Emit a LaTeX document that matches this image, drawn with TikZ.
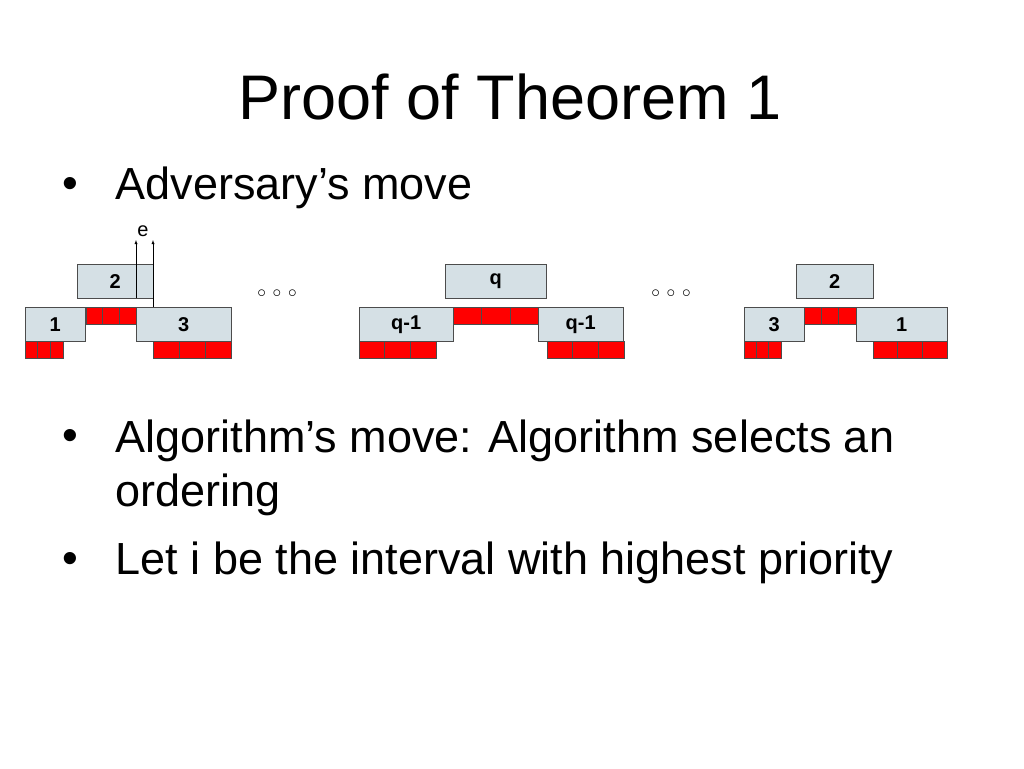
\documentclass[tikz,border=0pt]{standalone}
\usepackage{fontspec}
\setmainfont{Liberation Sans}
\usetikzlibrary{arrows}
\tikzstyle{interval} = [rectangle, draw=black!70, fill=cyan!25!gray!30, inner sep=0pt, font=\fontsize{20}{22}\selectfont\bfseries, anchor=north west]
\tikzstyle{cell} = [draw=black!70, fill=red]
\tikzstyle{bodytext} = [anchor=west, font=\fontsize{45}{54}\selectfont, align=left]
\tikzstyle{arrow} = [->,>=latex]
% red block of three cells: x0, x1, y0, y1
\newcommand{\redrow}[4]{\foreach \k in {0,1,2} {\draw [cell] ({#1+\k*(#2-#1)/3},#3) rectangle ({#1+(\k+1)*(#2-#1)/3},#4);}}

\begin{document}
\begin{tikzpicture}[x=1pt, y=-1pt]
    \useasboundingbox (0,0) rectangle (1024,768);
    % Text
    \node (title) at (510,97) {\fontsize{63}{70}\selectfont Proof of Theorem 1};
    \node (b1) at (70,188) {\fontsize{45}{54}\selectfont •};
    \node (t1) [bodytext] at (112,188) {Adversary’s move};
    \node (b2) at (70,440) {\fontsize{45}{54}\selectfont •};
    \node (t2) [bodytext, anchor=north west] at (112,416) {Algorithm’s move: Algorithm selects an\\ordering};
    \node (b3) at (70,563) {\fontsize{45}{54}\selectfont •};
    \node (t3) [bodytext] at (112,563) {Let i be the interval with highest priority};

    % Left group
    \redrow{86}{136}{307}{324}
    \redrow{25}{63}{341}{358}
    \redrow{153}{231}{341}{358}
    \node (lTwo) [interval, minimum width=76pt, minimum height=34pt] at (77,264) {2};
    \node (lOne) [interval, minimum width=60pt, minimum height=34pt] at (25,307) {1};
    \node (lThree) [interval, minimum width=95pt, minimum height=34pt] at (136,307) {3};
    \coordinate (eA) at (136,240);
    \coordinate (eB) at (153,240);
    \draw [arrow] (lTwo.south -| eA) -- (eA);
    \draw [arrow] (lThree.north -| eB) -- (eB);
    \node (e) at (143,231) {\fontsize{20}{22}\selectfont e};
    \node (dotsA) at (277,294) {\fontsize{16}{18}\selectfont $\circ\,\circ\,\circ$};

    % Middle group
    \redrow{453}{539}{307}{324}
    \redrow{359}{436}{341}{358}
    \redrow{547}{624}{341}{358}
    \node (mQ) [interval, minimum width=101pt, minimum height=34pt] at (445,264) {q};
    \node (mLeft) [interval, minimum width=94pt, minimum height=34pt] at (359,307) {q-1};
    \node (mRight) [interval, minimum width=85pt, minimum height=34pt] at (538,307) {q-1};
    \node (dotsB) at (671,294) {\fontsize{16}{18}\selectfont $\circ\,\circ\,\circ$};

    % Right group
    \redrow{804}{856}{307}{324}
    \redrow{744}{781}{341}{358}
    \redrow{873}{947}{341}{358}
    \node (rTwo) [interval, minimum width=77pt, minimum height=34pt] at (796,264) {2};
    \node (rThree) [interval, minimum width=60pt, minimum height=34pt] at (744,307) {3};
    \node (rOne) [interval, minimum width=91pt, minimum height=34pt] at (856,307) {1};
\end{tikzpicture}
\end{document}
